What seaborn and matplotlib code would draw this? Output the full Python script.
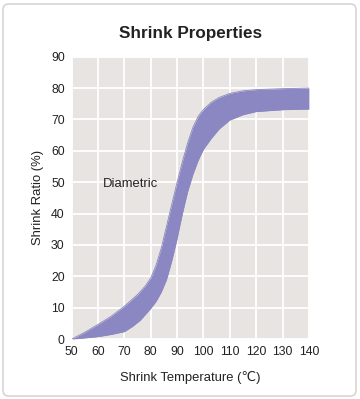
import numpy as np
import pandas as pd
import matplotlib
matplotlib.use("Agg")
import matplotlib.pyplot as plt
from matplotlib.patches import FancyBboxPatch
import seaborn as sns

# values
temp_upper = [50, 55, 60, 65, 70, 75, 78, 80, 82, 84, 86, 88, 90, 92, 94, 96, 98, 100,
              103, 106, 110, 115, 120, 130, 140]
ratio_upper = [0, 2.2, 4.7, 7.3, 10.5, 14.2, 17, 19.5, 23.5, 29, 36, 43, 50, 56.5, 62.5,
               67.5, 71, 73.2, 75.5, 77, 78.3, 79.1, 79.5, 79.8, 80]
temp_lower = [50, 55, 60, 65, 70, 73, 76, 80, 82, 84, 86, 88, 90, 92, 94, 96, 98, 100,
              103, 106, 110, 115, 120, 130, 140]
ratio_lower = [0, 0.4, 0.8, 1.5, 2.4, 4, 6, 9.8, 12, 15, 19, 25, 32, 40, 47, 52.5, 57,
               60.5, 64, 67, 69.8, 71.5, 72.5, 73.1, 73.3]
x_ticks = [50, 60, 70, 80, 90, 100, 110, 120, 130, 140]
y_ticks = [0, 10, 20, 30, 40, 50, 60, 70, 80, 90]

band_color = "#8a87c2"

sns.set_style("white", {"axes.facecolor": "#e8e4e1", "grid.color": "white"})
plt.rcParams["font.family"] = ["Liberation Sans", "DejaVu Sans"]

fig = plt.figure(figsize=(3.6, 3.99), dpi=100)
ax = fig.add_axes([0.199, 0.150, 0.659, 0.708])

df_up = pd.DataFrame({"temp": temp_upper, "ratio": ratio_upper})
df_lo = pd.DataFrame({"temp": temp_lower, "ratio": ratio_lower})
sns.lineplot(data=df_up, x="temp", y="ratio", ax=ax, color=band_color, lw=0.6)
sns.lineplot(data=df_lo, x="temp", y="ratio", ax=ax, color=band_color, lw=0.6)

# fill between the two curves on a common x grid
xs = np.array(temp_upper + [t for t in temp_lower if t not in temp_upper], dtype=float)
xs.sort()
ax.fill_between(xs, np.interp(xs, temp_lower, ratio_lower),
                np.interp(xs, temp_upper, ratio_upper), color=band_color, lw=0, zorder=2)

ax.set_xlim(50, 140)
ax.set_ylim(0, 90)
ax.set_xticks(x_ticks)
ax.set_yticks(y_ticks)
ax.grid(True, color="white", lw=1.3)
ax.set_axisbelow(True)
for s in ax.spines.values():
    s.set_visible(False)
ax.tick_params(axis="both", length=0, labelsize=8.8, colors="#222222", pad=5)
ax.set_xlabel("Shrink Temperature (\u2103)", fontsize=9.4, color="#222222", labelpad=9)
ax.set_ylabel("Shrink Ratio (%)", fontsize=9.4, color="#222222", labelpad=5)

ax.text(62, 49.5, "Diametric", fontsize=9.4, color="#222222", va="center", ha="left")

fig.text(0.53, 0.915, "Shrink Properties", fontsize=12.3, fontweight="bold",
         ha="center", va="center", color="#222222")

border = FancyBboxPatch((3 / 360, 3 / 399), 353 / 360, 392 / 399,
                        boxstyle="round,pad=0,rounding_size=0.015",
                        transform=fig.transFigure, fill=False, ec="#d6d6d6", lw=1.2)
fig.patches.append(border)

fig.savefig("out.png", dpi=100)
